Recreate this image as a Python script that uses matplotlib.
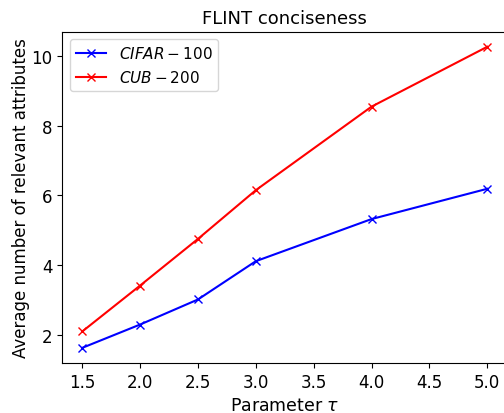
import matplotlib
matplotlib.use("Agg")
import matplotlib.pyplot as plt

tau = [1.5, 2.0, 2.5, 3.0, 4.0, 5.0]
cifar100 = [1.62, 2.29, 3.01, 4.11, 5.32, 6.19]
cub200 = [2.09, 3.41, 4.75, 6.15, 8.55, 10.27]
xticks = [1.5, 2.0, 2.5, 3.0, 3.5, 4.0, 4.5, 5.0]
yticks = [2, 4, 6, 8, 10]

fig = plt.figure(figsize=(5.04, 4.14), dpi=100)
ax = fig.add_axes([0.123, 0.121, 0.884, 0.800])

ax.plot(tau, cifar100, color="blue", marker="x", label=r"$CIFAR-100$")
ax.plot(tau, cub200, color="red", marker="x", label=r"$CUB-200$")

ax.set_xticks(xticks)
ax.set_yticks(yticks)
ax.tick_params(labelsize=12)
ax.set_xlabel(r"Parameter $\tau$", fontsize=12.5)
ax.set_ylabel("Average number of relevant attributes", fontsize=12, labelpad=1)
ax.set_title("FLINT conciseness", fontsize=13)
ax.legend(loc="upper left", fontsize=11)

fig.savefig("out.png", dpi=100)
